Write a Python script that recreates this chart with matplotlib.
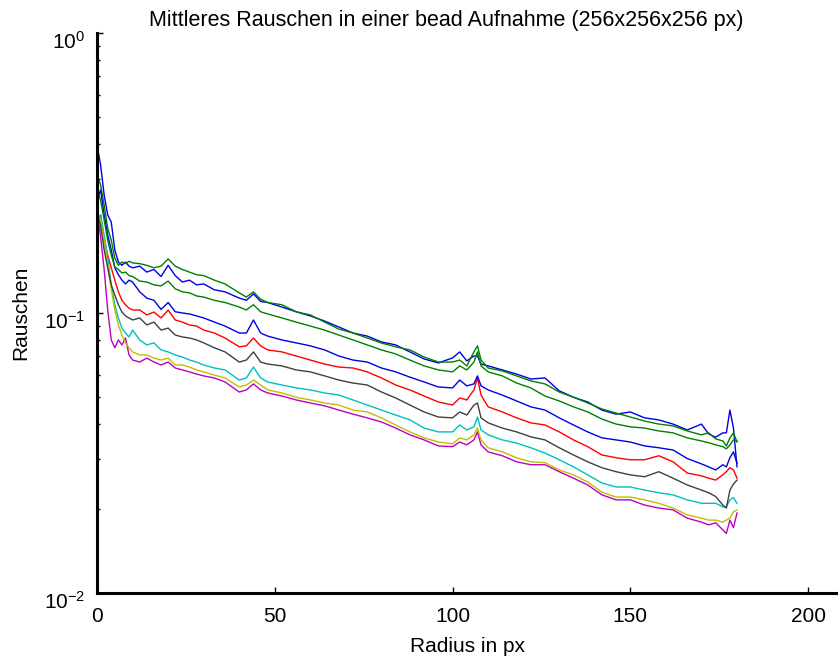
import numpy as np
import matplotlib
matplotlib.use("Agg")
import matplotlib.pyplot as plt
from matplotlib import ticker
from matplotlib.transforms import ScaledTranslation

plt.rcParams['font.family'] = ['Liberation Sans', 'DejaVu Sans']
plt.rcParams['mathtext.fontset'] = 'custom'
plt.rcParams['mathtext.rm'] = 'Liberation Sans'
plt.rcParams['mathtext.it'] = 'Liberation Sans'
plt.rcParams['mathtext.default'] = 'regular'

# radius positions (px)
radius = [0, 1, 2, 3, 4, 5, 6, 7, 8, 9, 10, 12, 14, 16, 18, 20, 22, 24, 26, 28, 30, 33, 36,
          40, 42, 44, 46, 48, 52, 56, 60, 64, 68, 72, 76, 80, 84, 88, 92, 96,
          100, 102, 104, 106, 107, 108, 110, 114, 118, 122, 126, 130, 134, 138, 142, 146,
          150, 154, 158, 162, 166, 170, 172, 174, 176, 177, 178, 179, 180]

# mean noise per bead, one list per curve
noise_b1 = [0.398, 0.338, 0.264, 0.224, 0.211, 0.168, 0.152, 0.148, 0.152, 0.147, 0.145, 0.147,
            0.140, 0.143, 0.135, 0.148, 0.136, 0.129, 0.131, 0.126, 0.127, 0.121, 0.119,
            0.113, 0.111, 0.117, 0.110, 0.109, 0.105, 0.101, 0.0976, 0.0936, 0.0891, 0.0848,
            0.0827, 0.0788, 0.0769, 0.0726, 0.0685, 0.0663,
            0.0691, 0.0726, 0.0674, 0.0702, 0.0702, 0.0657, 0.0647, 0.0626, 0.0605, 0.0581,
            0.0586, 0.0527, 0.0500, 0.0481, 0.0450, 0.0435,
            0.0443, 0.0422, 0.0415, 0.0401, 0.0382, 0.0401, 0.0370, 0.0360, 0.0373, 0.0373,
            0.0450, 0.0388, 0.0282]
noise_g1 = [0.311, 0.287, 0.243, 0.201, 0.182, 0.157, 0.148, 0.152, 0.150, 0.153, 0.151, 0.150,
            0.148, 0.145, 0.147, 0.156, 0.147, 0.143, 0.140, 0.137, 0.136, 0.131, 0.127,
            0.118, 0.114, 0.119, 0.112, 0.109, 0.107, 0.101, 0.0984, 0.0928, 0.0876, 0.0848,
            0.0814, 0.0781, 0.0757, 0.0738, 0.0696, 0.0668,
            0.0668, 0.0679, 0.0647, 0.0726, 0.0763, 0.0679, 0.0636, 0.0621, 0.0596, 0.0572,
            0.0558, 0.0522, 0.0500, 0.0477, 0.0454, 0.0439,
            0.0425, 0.0411, 0.0401, 0.0395, 0.0379, 0.0367, 0.0373, 0.0355, 0.0349, 0.0335,
            0.0358, 0.0373, 0.0346]
noise_r = [0.215, 0.224, 0.182, 0.161, 0.145, 0.131, 0.119, 0.111, 0.107, 0.104, 0.1025, 0.1025,
           0.0984, 0.1008, 0.0960, 0.1025, 0.0944, 0.0928, 0.0906, 0.0898, 0.0869, 0.0848, 0.0814,
           0.0757, 0.0763, 0.0814, 0.0763, 0.0738, 0.0726, 0.0702, 0.0679, 0.0657, 0.0641, 0.0636,
           0.0616, 0.0586, 0.0553, 0.0531, 0.0505, 0.0481,
           0.0469, 0.0497, 0.0489, 0.0531, 0.0586, 0.0509, 0.0462, 0.0443, 0.0422, 0.0405,
           0.0398, 0.0376, 0.0352, 0.0333, 0.0311, 0.0304,
           0.0299, 0.0299, 0.0309, 0.0294, 0.0268, 0.0262, 0.0257, 0.0253, 0.0264, 0.0271,
           0.0280, 0.0275, 0.0257]
noise_c = [0.206, 0.224, 0.190, 0.157, 0.126, 0.107, 0.0960, 0.0883, 0.0848, 0.0821, 0.0869, 0.0801,
           0.0769, 0.0782, 0.0738, 0.0726, 0.0708, 0.0696, 0.0679, 0.0668, 0.0652, 0.0636, 0.0626,
           0.0576, 0.0586, 0.0641, 0.0586, 0.0567, 0.0553, 0.0540, 0.0531, 0.0518, 0.0509, 0.0489,
           0.0469, 0.0450, 0.0432, 0.0415, 0.0388, 0.0376,
           0.0376, 0.0398, 0.0382, 0.0392, 0.0425, 0.0382, 0.0367, 0.0352, 0.0343, 0.0330,
           0.0316, 0.0299, 0.0282, 0.0264, 0.0247, 0.0239,
           0.0239, 0.0233, 0.0228, 0.0224, 0.0215, 0.0209, 0.0209, 0.0209, 0.0203, 0.0203,
           0.0215, 0.0219, 0.0209]
noise_m = [0.233, 0.187, 0.143, 0.1025, 0.0801, 0.0751, 0.0801, 0.0769, 0.0814, 0.0708, 0.0679, 0.0668,
           0.0690, 0.0668, 0.0652, 0.0668, 0.0636, 0.0626, 0.0616, 0.0605, 0.0596, 0.0586, 0.0567,
           0.0522, 0.0531, 0.0558, 0.0531, 0.0518, 0.0505, 0.0489, 0.0477, 0.0466, 0.0450, 0.0435,
           0.0422, 0.0408, 0.0388, 0.0367, 0.0352, 0.0335,
           0.0333, 0.0346, 0.0338, 0.0352, 0.0376, 0.0338, 0.0319, 0.0309, 0.0294, 0.0287,
           0.0287, 0.0271, 0.0257, 0.0243, 0.0224, 0.0215,
           0.0215, 0.0206, 0.0201, 0.0198, 0.0185, 0.0179, 0.0175, 0.0178, 0.0168, 0.0163,
           0.0182, 0.0171, 0.0193]
noise_y = [0.206, 0.215, 0.182, 0.148, 0.121, 0.1025, 0.0906, 0.0834, 0.0782, 0.0751, 0.0726, 0.0708,
           0.0708, 0.0690, 0.0679, 0.0690, 0.0652, 0.0652, 0.0641, 0.0626, 0.0616, 0.0600, 0.0586,
           0.0544, 0.0553, 0.0576, 0.0553, 0.0531, 0.0518, 0.0500, 0.0489, 0.0477, 0.0469, 0.0450,
           0.0443, 0.0422, 0.0398, 0.0376, 0.0358, 0.0346,
           0.0341, 0.0358, 0.0352, 0.0367, 0.0388, 0.0352, 0.0330, 0.0319, 0.0304, 0.0294,
           0.0292, 0.0275, 0.0264, 0.0249, 0.0229, 0.0220,
           0.0220, 0.0215, 0.0209, 0.0201, 0.0190, 0.0185, 0.0182, 0.0182, 0.0179, 0.0182,
           0.0185, 0.0195, 0.0198]
noise_k = [0.224, 0.206, 0.168, 0.145, 0.126, 0.116, 0.107, 0.1008, 0.0976, 0.0960, 0.0944, 0.0960,
           0.0906, 0.0928, 0.0869, 0.0883, 0.0834, 0.0821, 0.0814, 0.0801, 0.0782, 0.0751, 0.0726,
           0.0668, 0.0679, 0.0726, 0.0668, 0.0657, 0.0647, 0.0626, 0.0616, 0.0596, 0.0576, 0.0562,
           0.0553, 0.0522, 0.0497, 0.0469, 0.0443, 0.0425,
           0.0422, 0.0443, 0.0432, 0.0469, 0.0477, 0.0422, 0.0405, 0.0388, 0.0376, 0.0361,
           0.0352, 0.0330, 0.0311, 0.0294, 0.0280, 0.0271,
           0.0264, 0.0260, 0.0271, 0.0257, 0.0243, 0.0233, 0.0228, 0.0221, 0.0206, 0.0201,
           0.0233, 0.0245, 0.0253]
noise_b2 = [0.253, 0.275, 0.224, 0.190, 0.168, 0.145, 0.137, 0.131, 0.127, 0.131, 0.129, 0.119,
            0.113, 0.111, 0.103, 0.109, 0.101, 0.100, 0.0992, 0.0976, 0.0960, 0.0928, 0.0898,
            0.0848, 0.0848, 0.0944, 0.0848, 0.0827, 0.0801, 0.0782, 0.0763, 0.0738, 0.0702, 0.0679,
            0.0668, 0.0636, 0.0616, 0.0590, 0.0567, 0.0544,
            0.0540, 0.0576, 0.0549, 0.0558, 0.0596, 0.0549, 0.0531, 0.0509, 0.0485, 0.0462,
            0.0450, 0.0422, 0.0398, 0.0376, 0.0358, 0.0352,
            0.0346, 0.0335, 0.0330, 0.0324, 0.0302, 0.0289, 0.0282, 0.0275, 0.0287, 0.0282,
            0.0304, 0.0319, 0.0291]
noise_g2 = [0.275, 0.253, 0.215, 0.182, 0.161, 0.146, 0.143, 0.139, 0.140, 0.136, 0.135, 0.130,
            0.129, 0.126, 0.125, 0.130, 0.122, 0.119, 0.118, 0.115, 0.114, 0.111, 0.109,
            0.105, 0.1025, 0.107, 0.101, 0.0992, 0.0960, 0.0928, 0.0898, 0.0869, 0.0834, 0.0801,
            0.0769, 0.0738, 0.0714, 0.0679, 0.0647, 0.0626,
            0.0616, 0.0647, 0.0626, 0.0668, 0.0726, 0.0647, 0.0616, 0.0596, 0.0562, 0.0540,
            0.0505, 0.0485, 0.0462, 0.0443, 0.0418, 0.0401,
            0.0392, 0.0388, 0.0379, 0.0373, 0.0358, 0.0349, 0.0344, 0.0338, 0.0333, 0.0327,
            0.0338, 0.0352, 0.0349]

curves = [noise_b1, noise_g1, noise_r, noise_c, noise_m, noise_y, noise_k, noise_b2, noise_g2]
# old matlab line colour order b g r c m y k
colours = [(0, 0, 0.9), (0, 0.5, 0), (1, 0, 0), (0, 0.75, 0.75), (0.75, 0, 0.75),
           (0.75, 0.75, 0), (0.25, 0.25, 0.25), (0, 0, 0.9), (0, 0.5, 0)]

fig = plt.figure(figsize=(8.38, 6.61), dpi=100)
ax = fig.add_axes([0.1158, 0.103, 0.8842, 0.847])

for vals, col in zip(curves, colours):
    ax.semilogy(radius, vals, color=col, linewidth=1.0)

ax.set_xlim(0, 208.4)
ax.set_ylim(1e-2, 1e0)
ax.set_xticks([0, 50, 100, 150, 200])
ax.yaxis.set_major_locator(ticker.LogLocator(base=10))
ax.yaxis.set_minor_locator(ticker.LogLocator(base=10, subs=np.arange(2, 10)))
ax.yaxis.set_minor_formatter(ticker.NullFormatter())

ax.spines['right'].set_visible(False)
ax.spines['top'].set_visible(False)
ax.spines['left'].set_linewidth(2.2)
ax.spines['bottom'].set_linewidth(2.2)
ax.tick_params(axis='x', which='major', direction='in', length=4, width=1, labelsize=15, pad=10)
ax.tick_params(axis='y', which='major', direction='in', length=4, width=1, labelsize=15, pad=8.5)
ax.tick_params(axis='y', which='minor', direction='in', length=2.5, width=1)

# matlab puts the "10" below the tick, exponent at tick height
shift = ScaledTranslation(0, -7 / 100, fig.dpi_scale_trans)
for lab in ax.get_yticklabels():
    lab.set_transform(lab.get_transform() + shift)

ax.set_title('Mittleres Rauschen in einer bead Aufnahme (256x256x256 px)', fontsize=15.5,
             x=0.471, pad=5)
ax.set_xlabel('Radius in px', fontsize=15, labelpad=8)
ax.set_ylabel('Rauschen', fontsize=15)
ax.yaxis.set_label_coords(-0.09, 0.5)

fig.savefig('out.png', dpi=100)
